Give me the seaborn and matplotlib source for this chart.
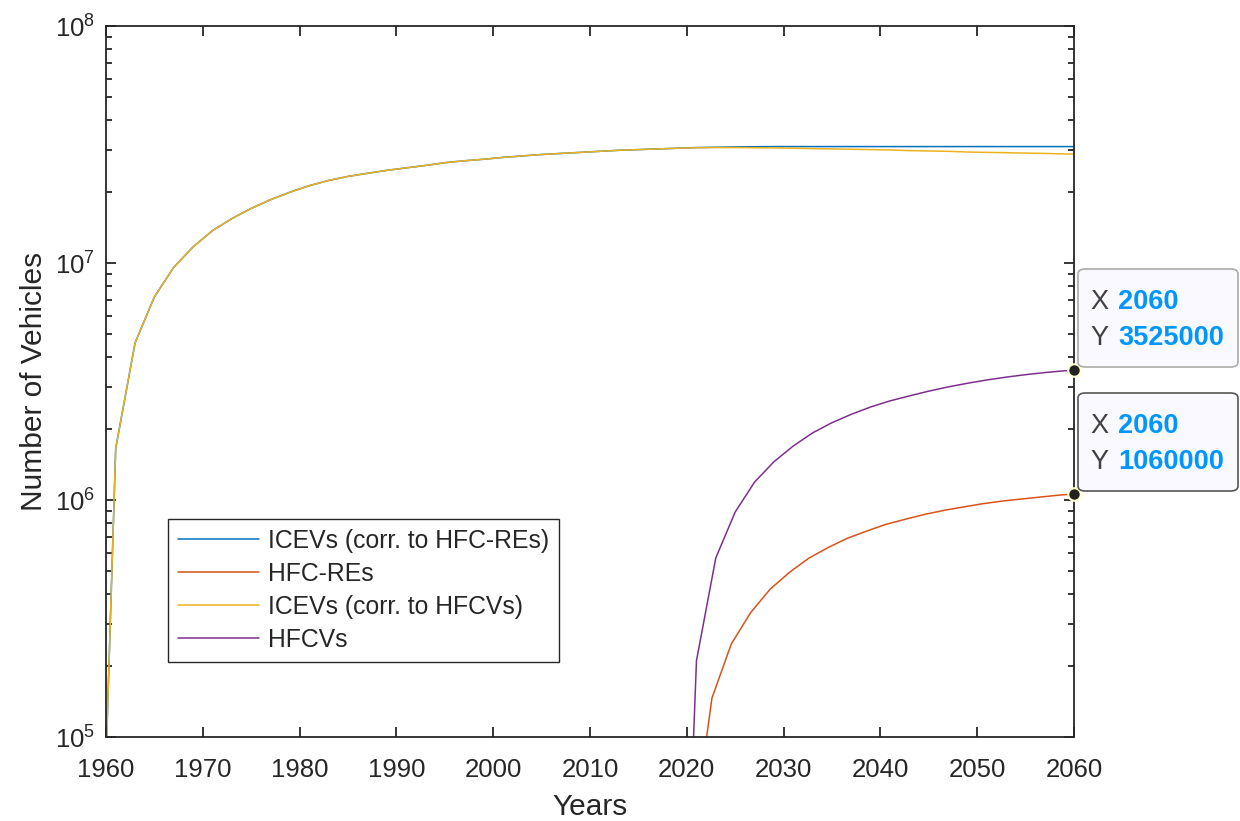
import numpy as np
import pandas as pd
import matplotlib
matplotlib.use('Agg')
import matplotlib.pyplot as plt
import seaborn as sns
from matplotlib.patches import FancyBboxPatch

# Datos (escala log)
years_ice = [1960, 1961, 1963, 1965, 1967, 1969, 1971, 1973, 1975, 1977, 1979,
             1981, 1983, 1985, 1987, 1989, 1991, 1993, 1995, 1997, 1999,
             2001, 2003, 2005, 2007, 2009, 2011, 2013, 2015, 2017, 2019,
             2021, 2023, 2025, 2027, 2029, 2031, 2033, 2035, 2037, 2039,
             2041, 2043, 2045, 2047, 2049, 2051, 2053, 2055, 2057, 2059, 2060]

ice_re = [8.0e4, 1.65e6, 4.6e6, 7.2e6, 9.6e6, 1.17e7, 1.37e7, 1.54e7, 1.70e7, 1.85e7, 1.99e7,
          2.12e7, 2.23e7, 2.32e7, 2.39e7, 2.46e7, 2.52e7, 2.58e7, 2.65e7, 2.70e7, 2.74e7,
          2.79e7, 2.83e7, 2.87e7, 2.90e7, 2.93e7, 2.96e7, 2.99e7, 3.01e7, 3.03e7, 3.05e7,
          3.07e7, 3.08e7, 3.09e7, 3.095e7, 3.10e7, 3.10e7, 3.10e7, 3.10e7, 3.10e7, 3.10e7,
          3.10e7, 3.10e7, 3.10e7, 3.10e7, 3.10e7, 3.10e7, 3.10e7, 3.10e7, 3.10e7, 3.10e7, 3.10e7]

ice_fcv = [8.0e4, 1.65e6, 4.6e6, 7.2e6, 9.6e6, 1.17e7, 1.37e7, 1.54e7, 1.70e7, 1.85e7, 1.99e7,
           2.12e7, 2.23e7, 2.32e7, 2.39e7, 2.46e7, 2.52e7, 2.58e7, 2.65e7, 2.70e7, 2.74e7,
           2.79e7, 2.83e7, 2.87e7, 2.90e7, 2.93e7, 2.96e7, 2.99e7, 3.01e7, 3.03e7, 3.05e7,
           3.065e7, 3.07e7, 3.07e7, 3.065e7, 3.06e7, 3.05e7, 3.04e7, 3.03e7, 3.02e7, 3.01e7,
           3.00e7, 2.98e7, 2.97e7, 2.96e7, 2.94e7, 2.93e7, 2.92e7, 2.91e7, 2.90e7, 2.885e7, 2.88e7]

years_re = [2020.6, 2022.6, 2024.6, 2026.6, 2028.6, 2030.6, 2032.6, 2034.6, 2036.6, 2038.6,
            2040.6, 2042.6, 2044.6, 2046.6, 2048.6, 2050.6, 2052.6, 2054.6, 2056.6, 2058.6, 2060]
hfc_re = [3.7e4, 1.46e5, 2.47e5, 3.35e5, 4.2e5, 4.95e5, 5.68e5, 6.3e5, 6.9e5, 7.4e5,
          7.9e5, 8.3e5, 8.7e5, 9.05e5, 9.35e5, 9.65e5, 9.9e5, 1.01e6, 1.03e6, 1.05e6, 1.06e6]

years_fcv = [2019, 2021, 2023, 2025, 2027, 2029, 2031, 2033, 2035, 2037, 2039,
             2041, 2043, 2045, 2047, 2049, 2051, 2053, 2055, 2057, 2059, 2060]
hfcv = [1.5e3, 2.1e5, 5.7e5, 8.9e5, 1.19e6, 1.45e6, 1.69e6, 1.92e6, 2.12e6, 2.30e6, 2.47e6,
        2.62e6, 2.75e6, 2.88e6, 3.00e6, 3.11e6, 3.21e6, 3.30e6, 3.38e6, 3.45e6, 3.51e6, 3.525e6]

series_labels = ['ICEVs (corr. to HFC-REs)', 'HFC-REs', 'ICEVs (corr. to HFCVs)', 'HFCVs']
colores = ['#0072BD', '#D95319', '#EDB120', '#7E2F8E']

tip_x = 2060
tip_vals = [3525000, 1060000]

sns.set_style('ticks')
plt.rcParams['font.family'] = ['Liberation Sans', 'DejaVu Sans']
plt.rcParams['mathtext.fontset'] = 'custom'
plt.rcParams['mathtext.rm'] = 'Liberation Sans'
plt.rcParams['mathtext.it'] = 'Liberation Sans'

fig = plt.figure(figsize=(12.4, 8.21), dpi=100)
ax = fig.add_axes([0.0855, 0.1023, 0.7806, 0.866])

datos = [(years_ice, ice_re), (years_re, hfc_re), (years_ice, ice_fcv), (years_fcv, hfcv)]
for (xs, ys), lab, col in zip(datos, series_labels, colores):
    sns.lineplot(x=xs, y=ys, color=col, label=lab, linewidth=1.1, ax=ax, legend=False)

ax.set_yscale('log')
ax.set_xlim(1960, 2060)
ax.set_ylim(1e5, 1e8)
ax.set_xticks(range(1960, 2061, 10))

gris = '#262626'
for s in ax.spines.values():
    s.set_visible(True)
    s.set_color(gris)
    s.set_linewidth(1.3)
ax.tick_params(axis='both', which='major', direction='in', length=7, width=1.3,
               top=True, right=True, labelsize=18.5, colors=gris, pad=8)
ax.tick_params(axis='x', which='major', pad=15)
ax.tick_params(axis='y', which='minor', direction='in', length=4.5, width=1.3,
               left=True, right=True, colors=gris)
ax.tick_params(axis='x', which='minor', bottom=False, top=False)

ax.set_xlabel('Years', fontsize=21.5, color=gris, labelpad=8)
ax.set_ylabel('Number of Vehicles', fontsize=21.5, color=gris, labelpad=5)

leg = ax.legend(loc='upper left', bbox_to_anchor=(0.064, 0.3066), fontsize=17.8,
                frameon=True, fancybox=False, framealpha=1, edgecolor=gris,
                handlelength=3.3, handletextpad=0.35, labelspacing=0.36,
                borderaxespad=0, borderpad=0.4)
leg.get_frame().set_linewidth(1.0)

# Data tips
ax.plot([tip_x, tip_x], tip_vals, linestyle='none', marker='o', markersize=9,
        markerfacecolor='#222222', markeredgecolor='#FFFFD0', markeredgewidth=1.5,
        clip_on=False, zorder=10)

W, H = 1240, 821
cajas = [(269, '#AAAAAA'), (393, '#555555')]
for (top, borde), val in zip(cajas, tip_vals):
    caja = FancyBboxPatch((1078 / W, 1 - (top + 98) / H), 160 / W, 98 / H,
                          boxstyle='round,pad=0,rounding_size=0.006',
                          transform=fig.transFigure, facecolor='#F9F9FF',
                          edgecolor=borde, linewidth=1.2, zorder=5)
    fig.patches.append(caja)
    y1 = 1 - (top + 33) / H
    y2 = 1 - (top + 69) / H
    fig.text(1090 / W, y1, 'X', fontsize=19.5, color='#404040', va='center', zorder=6)
    fig.text(1118 / W, y1, str(tip_x), fontsize=19.5, color='#0096FF',
             fontweight='bold', va='center', zorder=6)
    fig.text(1090 / W, y2, 'Y', fontsize=19.5, color='#404040', va='center', zorder=6)
    fig.text(1118 / W, y2, str(val), fontsize=19.5, color='#0096FF',
             fontweight='bold', va='center', zorder=6)

fig.savefig('out.png', dpi=100)
